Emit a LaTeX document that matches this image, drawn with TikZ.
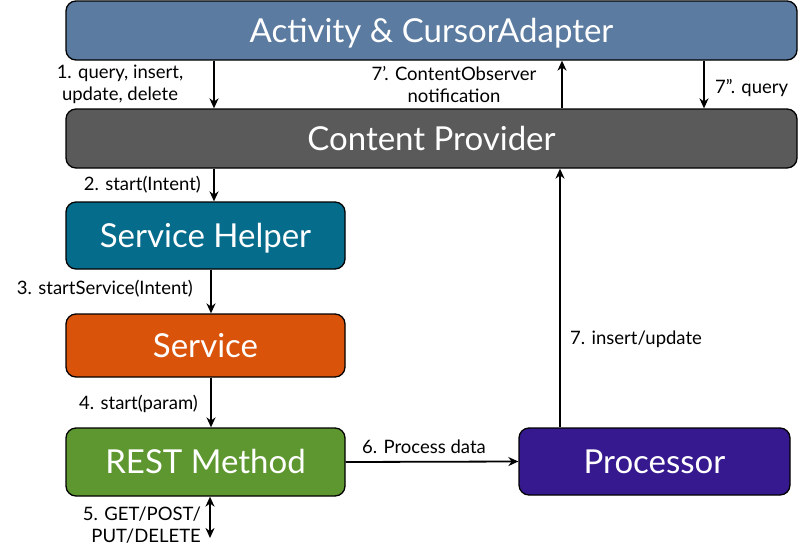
\documentclass[tikz,border=0pt]{standalone}
\usepackage{fontspec}
\setmainfont{Lato}
\usetikzlibrary{arrows.meta}
\definecolor{actc}{HTML}{5B7BA0}
\definecolor{cpc}{HTML}{5A5A5A}
\definecolor{shc}{HTML}{066C8C}
\definecolor{svc}{HTML}{D9530A}
\definecolor{rmc}{HTML}{5E972F}
\definecolor{prc}{HTML}{36198F}
\tikzset{
  box/.style={draw=black, line width=1.3pt, rounded corners=10pt, text=white, font=\fontsize{33}{35}\selectfont, inner sep=0pt, text height=23pt, text depth=0pt},
  lbl/.style={font=\fontsize{18.5}{22}\selectfont, text=black, inner sep=0pt, align=center},
  arr/.style={line width=1.8pt, -{Stealth[length=10pt,width=9pt]}},
  darr/.style={line width=1.8pt, {Stealth[length=10pt,width=9pt]}-{Stealth[length=10pt,width=9pt]}}
}
\begin{document}
\begin{tikzpicture}[x=1pt,y=-1pt]
\useasboundingbox (0,0) rectangle (800,549);
\node[box, fill=actc, minimum width=731pt, minimum height=59pt] (act) at (431.5,30.5) {Activity \& CursorAdapter};
\node[box, fill=cpc, minimum width=731pt, minimum height=59pt] (cp) at (431.5,138.5) {Content Provider};
\node[box, fill=shc, minimum width=279pt, minimum height=67pt] (sh) at (205.5,235.5) {Service Helper};
\node[box, fill=svc, minimum width=279pt, minimum height=63pt] (sv) at (205.5,345.5) {Service};
\node[box, fill=rmc, minimum width=279pt, minimum height=68pt] (rm) at (205.5,462) {REST Method};
\node[box, fill=prc, minimum width=271pt, minimum height=67pt] (pr) at (654.5,461.5) {Processor};

\coordinate (x1) at (214,0);
\coordinate (x7a) at (562,0);
\coordinate (x7b) at (704,0);
\coordinate (x3) at (211,0);
\coordinate (x5) at (210,0);
\coordinate (x7) at (560,0);
\coordinate (e5) at (210,538);

\draw[arr] (act.south -| x1) -- (cp.north -| x1);
\draw[arr] (cp.north -| x7a) -- (act.south -| x7a);
\draw[arr] (act.south -| x7b) -- (cp.north -| x7b);
\draw[arr] (cp.south -| x1) -- (sh.north -| x1);
\draw[arr] (sh.south -| x3) -- (sv.north -| x3);
\draw[arr] (sv.south -| x3) -- (rm.north -| x3);
\draw[darr] (rm.south -| x5) -- (e5);
\draw[arr] (rm.east) -- (pr.west);
\draw[arr] (pr.north -| x7) -- (cp.south -| x7);

\node[lbl] (l1) at (120,84) {1. query, insert,\\update, delete};
\node[lbl] (l7a) at (454,85) {7'. ContentObserver\\notification};
\node[lbl, anchor=west] (l7b) at (715,88) {7''. query};
\node[lbl, anchor=east] (l2) at (201,185) {2. start(Intent)};
\node[lbl, anchor=east] (l3) at (193,289) {3. startService(Intent)};
\node[lbl, anchor=east] (l4) at (198,404) {4. start(param)};
\node[lbl, align=right, anchor=east] (l5) at (201,525) {5. GET/POST/\\PUT/DELETE};
\node[lbl, anchor=west] (l6) at (362,447) {6. Process data};
\node[lbl, anchor=west] (l7) at (570,339) {7. insert/update};
\end{tikzpicture}
\end{document}
